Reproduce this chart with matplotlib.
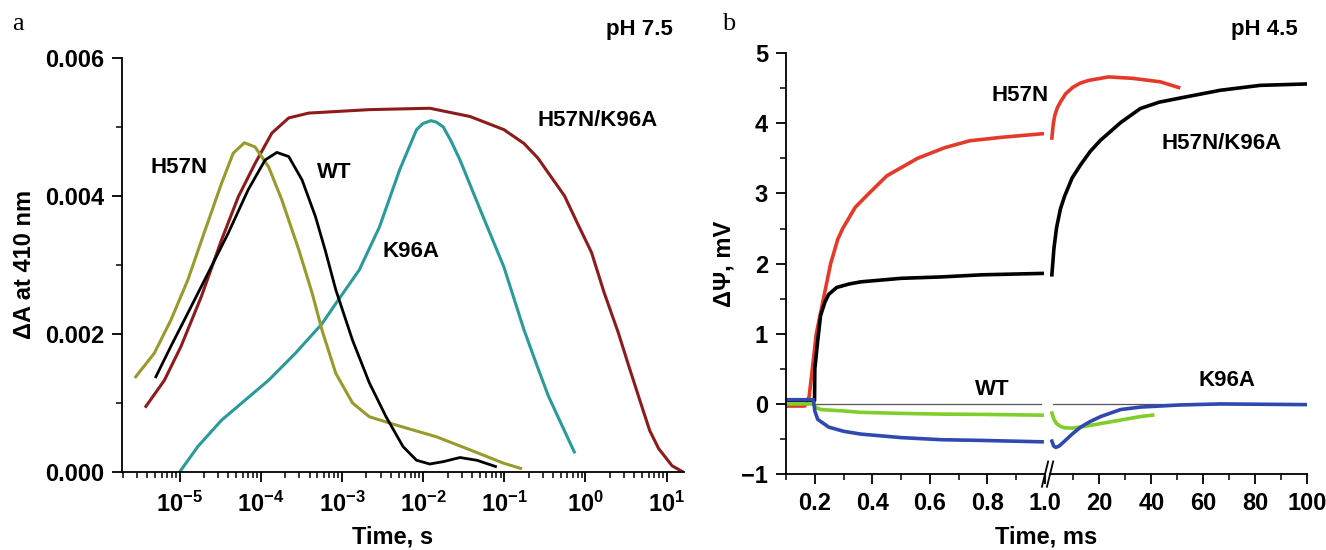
import math
import matplotlib
matplotlib.use("Agg")
import matplotlib.pyplot as plt
from matplotlib.ticker import FixedLocator, MultipleLocator, LogLocator, FuncFormatter, NullFormatter

plt.rcParams["font.family"] = ["Liberation Sans", "DejaVu Sans"]
plt.rcParams["font.weight"] = "bold"
plt.rcParams["mathtext.fontset"] = "custom"
plt.rcParams["mathtext.rm"] = "Liberation Sans:bold"
plt.rcParams["mathtext.bf"] = "Liberation Sans:bold"
plt.rcParams["axes.linewidth"] = 1.3

# ---- panel a: absorbance at 410 nm, pH 7.5 (time in s) ----
h57n_t = [2.88e-6, 4.87e-6, 7.8e-6, 1.26e-5, 2.0e-5, 3.28e-5, 4.58e-5, 6.28e-5, 8.5e-5, 1.25e-4,
          1.82e-4, 2.94e-4, 4.3e-4, 5.7e-4, 8.4e-4, 1.35e-3, 2.18e-3, 4.66e-3, 1.46e-2, 3.8e-2,
          9.9e-2, 0.159]
h57n_a = [0.00138, 0.00172, 0.0022, 0.00278, 0.00346, 0.00418, 0.00462, 0.00477, 0.00471, 0.00442,
          0.00394, 0.00322, 0.00259, 0.00205, 0.00143, 0.0010, 0.0008, 0.00068, 0.00051, 0.00032,
          0.000126, 0.000053]

wt_t = [5.1e-6, 7.8e-6, 1.26e-5, 2.24e-5, 3.97e-5, 7.0e-5, 1.13e-4, 1.58e-4, 2.21e-4, 3.23e-4,
        4.72e-4, 6.2e-4, 8.4e-4, 1.35e-3, 2.18e-3, 3.5e-3, 5.65e-3, 8.3e-3, 1.21e-2, 1.77e-2,
        2.85e-2, 4.6e-2, 7.8e-2]
wt_a = [0.00138, 0.00182, 0.0023, 0.00288, 0.00346, 0.00409, 0.00452, 0.00463, 0.00457, 0.00423,
        0.00370, 0.00322, 0.00264, 0.00191, 0.00129, 0.0008, 0.00037, 0.00017, 0.000116, 0.00015,
        0.00021, 0.00017, 0.00008]

dm_t = [3.84e-6, 6.5e-6, 1.04e-5, 1.85e-5, 3.28e-5, 5.3e-5, 8.5e-5, 1.37e-4, 2.21e-4, 3.9e-4,
        2.18e-3, 1.21e-2, 3.8e-2, 9.9e-2, 0.175, 0.259, 0.553, 0.8, 1.19, 1.7,
        2.54, 3.5, 4.8, 6.2, 7.98, 11.7, 16.0]
dm_a = [0.00095, 0.00133, 0.00182, 0.00254, 0.00336, 0.00399, 0.00447, 0.00491, 0.00513, 0.0052,
        0.00525, 0.00527, 0.00515, 0.00496, 0.00476, 0.00455, 0.0040, 0.0036, 0.00318, 0.0026,
        0.00202, 0.0015, 0.0010, 0.0006, 0.00034, 0.00009, 0.0]

k96a_t = [1.0e-5, 1.68e-5, 3.28e-5, 6.4e-5, 1.25e-4, 2.67e-4, 5.7e-4, 8.4e-4, 1.64e-3, 2.9e-3,
          5.15e-3, 8.3e-3, 1.0e-2, 1.25e-2, 1.45e-2, 1.77e-2, 2.2e-2, 2.85e-2, 5.06e-2, 9.9e-2,
          0.175, 0.259, 0.35, 0.48, 0.73]
k96a_a = [0.0, 0.00037, 0.00075, 0.00104, 0.00133, 0.00172, 0.00215, 0.00244, 0.00293, 0.00355,
          0.00438, 0.00496, 0.00505, 0.00509, 0.00507, 0.0050, 0.0048, 0.00452, 0.0038, 0.00297,
          0.00206, 0.00151, 0.0011, 0.00075, 0.00029]

# ---- panel b: electrometric signal, pH 4.5 (time in ms) ----
# early part (0.1 - 1.0 ms)
red_t1 = [0.1, 0.165, 0.18, 0.19, 0.205, 0.23, 0.255, 0.28, 0.297, 0.34, 0.388, 0.45, 0.557, 0.65, 0.738, 0.85, 0.99]
red_v1 = [-0.03, -0.03, 0.1, 0.45, 1.0, 1.5, 2.0, 2.35, 2.5, 2.8, 3.0, 3.25, 3.5, 3.65, 3.75, 3.8, 3.85]
blk_t1 = [0.1, 0.199, 0.2, 0.21, 0.22, 0.235, 0.248, 0.276, 0.32, 0.36, 0.5, 0.64, 0.78, 0.99]
blk_v1 = [0.05, 0.05, 0.5, 0.9, 1.26, 1.45, 1.56, 1.66, 1.71, 1.74, 1.79, 1.81, 1.84, 1.86]
grn_t1 = [0.11, 0.195, 0.205, 0.22, 0.3, 0.36, 0.5, 0.64, 0.8, 0.99]
grn_v1 = [0.0, 0.0, -0.05, -0.08, -0.1, -0.12, -0.135, -0.145, -0.15, -0.16]
blu_t1 = [0.1, 0.195, 0.2, 0.21, 0.248, 0.3, 0.36, 0.5, 0.64, 0.78, 0.99]
blu_v1 = [0.06, 0.06, -0.1, -0.22, -0.33, -0.39, -0.43, -0.48, -0.51, -0.52, -0.54]
# late part (1 - 100 ms)
red_t2 = [1.7, 2.2, 2.8, 3.8, 5.1, 7.0, 9.7, 12.5, 15.8, 23.5, 32.8, 43.5, 50.5]
red_v2 = [3.79, 3.98, 4.11, 4.22, 4.31, 4.42, 4.51, 4.57, 4.61, 4.66, 4.64, 4.59, 4.51]
blk_t2 = [1.7, 2.5, 3.5, 5.0, 6.6, 9.5, 12.8, 16.5, 20.5, 28.2, 35.8, 43.0, 51.2, 66.6, 82.0, 100.0]
blk_v2 = [1.84, 2.22, 2.51, 2.78, 2.96, 3.22, 3.41, 3.6, 3.76, 4.01, 4.21, 4.3, 4.36, 4.47, 4.54, 4.56]
grn_t2 = [1.7, 2.5, 3.5, 5.0, 6.6, 9.5, 12.8, 20.5, 28.2, 35.8, 40.5]
grn_v2 = [-0.13, -0.22, -0.28, -0.32, -0.34, -0.345, -0.33, -0.28, -0.23, -0.18, -0.16]
blu_t2 = [1.7, 2.4, 3.2, 4.5, 6.6, 9.5, 12.8, 16.5, 20.5, 28.2, 35.8, 51.0, 66.6, 100.0]
blu_v2 = [-0.53, -0.6, -0.62, -0.6, -0.53, -0.43, -0.33, -0.25, -0.18, -0.08, -0.045, -0.015, 0.0, -0.01]

decades = [-5, -4, -3, -2, -1, 0, 1]

OLIVE, TEAL, MAROON = "#999a2c", "#2a9a9a", "#8e1b1b"
RED, GREEN, BLUE = "#e5392a", "#7fce2a", "#2f49b0"
TICK_FS, LABEL_FS, CURVE_FS = 17, 17, 16

fig = plt.figure(figsize=(13.26, 5.5), dpi=100)

# ================= panel a =================
ax = fig.add_axes([0.092, 0.1418, 0.424, 0.753])
ax.plot(dm_t, dm_a, color=MAROON, lw=2.2)
ax.plot(k96a_t, k96a_a, color=TEAL, lw=2.2)
ax.plot(h57n_t, h57n_a, color=OLIVE, lw=2.2)
ax.plot(wt_t, wt_a, color="black", lw=2.0)
ax.set_xscale("log")
ax.set_xlim(1.95e-6, 16.5)
ax.set_ylim(0, 0.006)
ax.yaxis.set_major_locator(FixedLocator([0, 0.002, 0.004, 0.006]))
ax.yaxis.set_minor_locator(MultipleLocator(0.001))
ax.yaxis.set_major_formatter(FuncFormatter(lambda v, p: f"{v:.3f}"))
ax.xaxis.set_major_locator(FixedLocator([10.0 ** k for k in decades]))
ax.xaxis.set_minor_locator(LogLocator(base=10, subs=range(2, 10), numticks=20))
ax.xaxis.set_minor_formatter(NullFormatter())
ax.xaxis.set_major_formatter(FuncFormatter(lambda v, p: r"$\mathbf{10^{%d}}$" % round(math.log10(v))))
for s in ("top", "right"):
    ax.spines[s].set_visible(False)
ax.tick_params(axis="both", which="major", direction="out", length=7, width=1.3, labelsize=TICK_FS, pad=6)
ax.tick_params(axis="both", which="minor", direction="out", length=4, width=1.1)
ax.tick_params(axis="x", which="major", pad=7)
ax.set_ylabel("ΔA at 410 nm", fontsize=LABEL_FS, fontweight="bold", labelpad=6)
fig.text(393 / 1326, 0.012, "Time, s", fontsize=LABEL_FS, fontweight="bold", ha="center", va="baseline")
ax.text(4.4e-6, 0.00433, "H57N", fontsize=CURVE_FS, fontweight="bold")
ax.text(4.97e-4, 0.00426, "WT", fontsize=CURVE_FS, fontweight="bold")
ax.text(3.18e-3, 0.00312, "K96A", fontsize=CURVE_FS, fontweight="bold")
ax.text(0.26, 0.00501, "H57N/K96A", fontsize=CURVE_FS, fontweight="bold")
fig.text(673 / 1326, 1 - 35 / 550, "pH 7.5", fontsize=CURVE_FS, fontweight="bold", ha="right", va="baseline")
fig.text(0.009, 1 - 30 / 550, "a", fontsize=19, family="Liberation Serif", fontweight="normal", va="baseline")

# ================= panel b (broken time axis) =================
b1 = fig.add_axes([0.5928, 0.138, 0.1953, 0.7655])
b2 = fig.add_axes([0.7919, 0.138, 0.1938, 0.7655])
b1.plot(red_t1, red_v1, color=RED, lw=2.6)
b1.plot(blk_t1, blk_v1, color="black", lw=2.6)
b1.plot(grn_t1, grn_v1, color=GREEN, lw=2.6)
b1.plot(blu_t1, blu_v1, color=BLUE, lw=2.6)
b2.plot(red_t2, red_v2, color=RED, lw=2.6)
b2.plot(blk_t2, blk_v2, color="black", lw=2.6)
b2.plot(grn_t2, grn_v2, color=GREEN, lw=2.6)
b2.plot(blu_t2, blu_v2, color=BLUE, lw=2.6)
b1.axhline(0, xmin=0, xmax=0.985, color="#555555", lw=0.9, zorder=0)
b2.axhline(0, xmin=0.01, xmax=1, color="#555555", lw=0.9, zorder=0)

b1.set_xlim(0.1, 1.0)
b2.set_xlim(1, 100)
for a_ in (b1, b2):
    a_.set_ylim(-1, 5)
    a_.spines["top"].set_visible(False)
    a_.spines["right"].set_visible(False)
    a_.tick_params(axis="both", which="major", direction="out", length=7, width=1.3, labelsize=TICK_FS, pad=6)
    a_.tick_params(axis="both", which="minor", direction="out", length=4, width=1.1)
    a_.tick_params(axis="x", which="major", pad=6)
b2.spines["left"].set_visible(False)
b2.tick_params(axis="y", which="both", left=False, labelleft=False)

b1.xaxis.set_major_locator(FixedLocator([0.2, 0.4, 0.6, 0.8, 1.0]))
b1.xaxis.set_minor_locator(FixedLocator([0.1, 0.3, 0.5, 0.7, 0.9]))
b1.xaxis.set_major_formatter(FuncFormatter(lambda v, p: f"{v:.1f}"))
b2.xaxis.set_major_locator(FixedLocator([20, 40, 60, 80, 100]))
b2.xaxis.set_minor_locator(FixedLocator([10, 30, 50, 70, 90]))
b1.yaxis.set_major_locator(MultipleLocator(1))
b1.yaxis.set_minor_locator(MultipleLocator(0.5))
b1.yaxis.set_major_formatter(FuncFormatter(lambda v, p: f"{v:.0f}".replace("-", "\u2212")))

# break marks on the time axis
for a_, x0 in ((b1, 1.0), (b2, 0.0)):
    a_.plot([x0 - 0.012, x0 + 0.012], [-0.03, 0.03], transform=a_.transAxes,
            color="black", lw=1.3, clip_on=False)

b1.set_ylabel("ΔΨ, mV", fontsize=LABEL_FS, fontweight="bold", labelpad=4)
fig.text(1046 / 1326, 0.012, "Time, ms", fontsize=LABEL_FS, fontweight="bold", ha="center", va="baseline")
b1.text(0.755, 0.13, "WT", fontsize=CURVE_FS, fontweight="bold")
b1.text(0.815, 4.31, "H57N", fontsize=CURVE_FS, fontweight="bold")
b2.text(44, 3.64, "H57N/K96A", fontsize=CURVE_FS, fontweight="bold")
b2.text(58, 0.26, "K96A", fontsize=CURVE_FS, fontweight="bold")
fig.text(1298 / 1326, 1 - 35 / 550, "pH 4.5", fontsize=CURVE_FS, fontweight="bold", ha="right", va="baseline")
fig.text(722 / 1326, 1 - 30 / 550, "b", fontsize=19, family="Liberation Serif", fontweight="normal", va="baseline")

fig.savefig("out.png", dpi=100)
